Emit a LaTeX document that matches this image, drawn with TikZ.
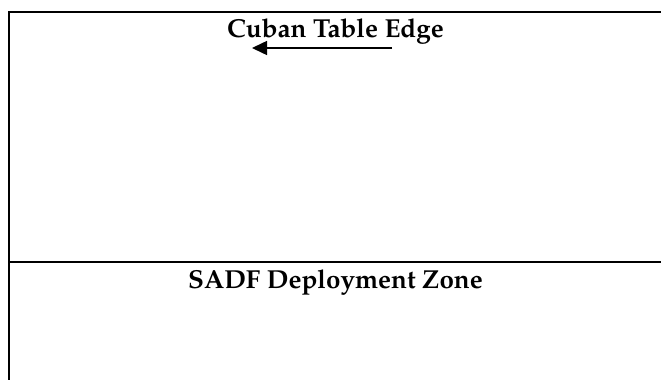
\documentclass[tikz,border=0pt]{standalone}
\usepackage[T1]{fontenc}
\usepackage{mathpazo}
\usetikzlibrary{arrows.meta}
\tikzset{
  frameline/.style={line width=1.5pt, line cap=rect},
  label/.style={font=\fontsize{26}{30}\selectfont\bfseries, inner sep=0pt, anchor=base},
  movearrow/.style={line width=1.5pt, -{Triangle[length=15pt,width=14pt]}}
}
\begin{document}
\begin{tikzpicture}[x=1pt,y=-1pt]
\useasboundingbox (0,0) rectangle (661,380);
\coordinate (bl) at (9,380);
\coordinate (tl) at (9,12);
\coordinate (tr) at (661,12);
\coordinate (ml) at (9,262);
\coordinate (mr) at (661,262);
\draw[frameline] (bl) -- (tl) -- (tr);
\draw[frameline] (ml) -- (mr);
\node[label] (cuban) at (335.5,37) {Cuban Table Edge};
\node[label] (sadf) at (335.5,288) {SADF Deployment Zone};
\coordinate (as) at (392,48);
\coordinate (ae) at (252,48);
\draw[movearrow] (as) -- (ae);
\end{tikzpicture}
\end{document}
